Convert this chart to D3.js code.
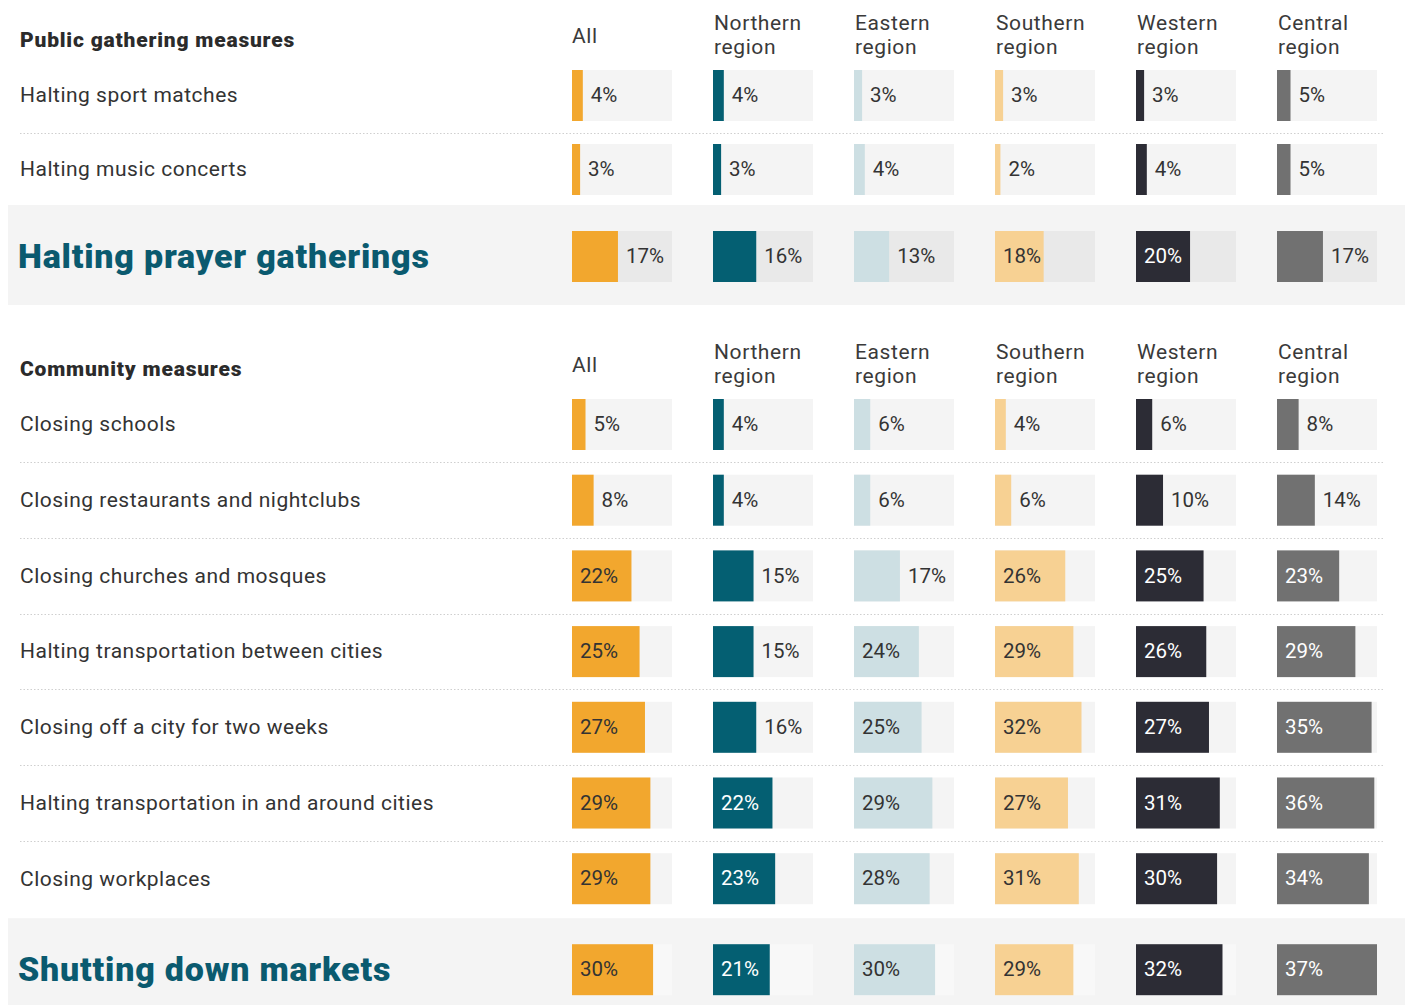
<!DOCTYPE html>
<html>
<head>
  <meta charset="utf-8">
  <title></title>
  <style>
  	body { margin: 0; background: #fff; }
  	text { font-family: Roboto, "Open Sans", sans-serif; }
  	.sep { stroke: #cfcfcf; stroke-width: 1; stroke-dasharray: 1.5,2; }
  </style>
</head>
<body>
<svg width="1405" height="1005"></svg>
<script src="https://cdn.jsdelivr.net/npm/d3@7"></script>
<script>

var regions = ["All", "Northern region", "Eastern region", "Southern region", "Western region", "Central region"];
var regionColors = ["#f2a72e", "#045f72", "#cddfe3", "#f7d193", "#2c2c35", "#717171"];
var darkRegion = [false, true, false, false, true, true];

var publicMeasures = ["Halting sport matches", "Halting music concerts", "Halting prayer gatherings"];
var publicValues = [
	[4, 4, 3, 3, 3, 5],
	[3, 3, 4, 2, 4, 5],
	[17, 16, 13, 18, 20, 17]
];

var communityMeasures = ["Closing schools", "Closing restaurants and nightclubs", "Closing churches and mosques",
	"Halting transportation between cities", "Closing off a city for two weeks",
	"Halting transportation in and around cities", "Closing workplaces", "Shutting down markets"];
var communityValues = [
	[5, 4, 6, 4, 6, 8],
	[8, 4, 6, 6, 10, 14],
	[22, 15, 17, 26, 25, 23],
	[25, 15, 24, 29, 26, 29],
	[27, 16, 25, 32, 27, 35],
	[29, 22, 29, 27, 31, 36],
	[29, 23, 28, 31, 30, 34],
	[30, 21, 30, 29, 32, 37]
];

var svg = d3.select("svg");

var x = d3.scaleLinear().domain([0, 37]).range([0, 100]);
var col = d3.scaleBand().domain(regions).range([572, 572 + 141 * regions.length]);
var barH = 51;

function drawSection(top, title, measures, values, step, hlGap, hlBarBg) {
	var g = svg.append("g").attr("transform", "translate(0," + top + ")");
	var n = measures.length;
	var rowY = d3.scaleLinear().domain([0, 1]).range([70, 70 + step]);
	function barTop(i) { return i < n - 1 ? rowY(i) : rowY(n - 2) + hlGap; }

	// highlight band
	g.append("rect")
		.attr("x", 8).attr("y", barTop(n - 1) - 26)
		.attr("width", 1397).attr("height", 100)
		.attr("fill", "#f4f4f4");

	// header
	g.append("text")
		.attr("x", 20).attr("y", 47)
		.attr("font-size", 21).attr("font-weight", 900).attr("fill", "#2b2b2b")
		.attr("letter-spacing", 0.8)
		.text(title);

	var head = g.selectAll(".colhead")
		.data(regions)
		.enter().append("text")
		.attr("class", "colhead")
		.attr("font-size", 21).attr("fill", "#3a3a3a")
		.attr("letter-spacing", 0.6);
	head.each(function(d) {
		var words = d.split(" ");
		var t = d3.select(this);
		if (words.length == 1) {
			t.append("tspan").attr("x", col(d)).attr("y", 43).text(d);
		} else {
			words.forEach(function(w, k) {
				t.append("tspan").attr("x", col(d) + 1).attr("y", 30 + k * 24).text(w);
			});
		}
	});

	// separators
	for (var i = 0; i < n - 2; i++) {
		var sy = Math.round((barTop(i) + barH + barTop(i + 1)) / 2) + 0.5;
		g.append("line").attr("class", "sep")
			.attr("x1", 20).attr("x2", 1385)
			.attr("y1", sy).attr("y2", sy);
	}

	var rows = g.selectAll(".row")
		.data(measures)
		.enter().append("g")
		.attr("class", "row")
		.attr("transform", function(d, i) { return "translate(0," + barTop(i) + ")"; });

	rows.append("text")
		.attr("x", function(d, i) { return i == n - 1 ? 18 : 20; })
		.attr("y", barH / 2 - 0.5)
		.attr("dy", "0.35em")
		.attr("font-size", function(d, i) { return i == n - 1 ? 34 : 21; })
		.attr("font-weight", function(d, i) { return i == n - 1 ? 900 : 400; })
		.attr("fill", function(d, i) { return i == n - 1 ? "#0a5a6f" : "#333"; })
		.attr("letter-spacing", function(d, i) { return i == n - 1 ? 0.8 : 0.5; })
		.text(function(d) { return d; });

	rows.each(function(m, i) {
		var r = d3.select(this);
		var cells = r.selectAll(".cell")
			.data(values[i].map(function(v, j) { return {v: v, j: j}; }))
			.enter().append("g")
			.attr("class", "cell")
			.attr("transform", function(d) { return "translate(" + col(regions[d.j]) + ",0)"; });

		cells.append("rect")
			.attr("width", x(37)).attr("height", barH)
			.attr("fill", i == n - 1 ? hlBarBg : "#f4f4f4");

		cells.append("rect")
			.attr("width", function(d) { return x(d.v); }).attr("height", barH)
			.attr("fill", function(d) { return regionColors[d.j]; });

		cells.append("text")
			.attr("x", function(d) { return x(d.v) > 47 ? 8 : x(d.v) + 8; })
			.attr("y", barH / 2 - 0.5)
			.attr("dy", "0.35em")
			.attr("font-size", 20.5)
			.attr("fill", function(d) { return (x(d.v) > 47 && darkRegion[d.j]) ? "#fff" : "#333"; })
			.text(function(d) { return d.v + "%"; });
	});
}

drawSection(0, "Public gathering measures", publicMeasures, publicValues, 74, 87, "#e9e9e9");
drawSection(329, "Community measures", communityMeasures, communityValues, 75.7, 91, "#f8f8f8");

</script>
</body>
</html>
